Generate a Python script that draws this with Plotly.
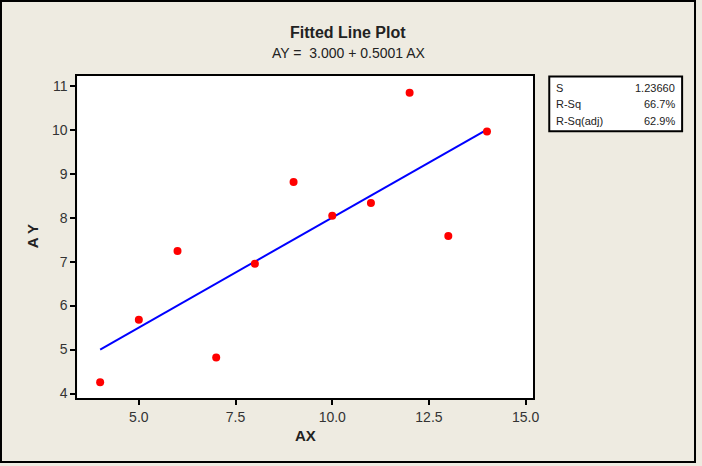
import numpy as np
import plotly.graph_objects as go

# Data (Anscombe set 1)
ax_vals = [10, 8, 13, 9, 11, 14, 6, 4, 12, 7, 5]
ay_vals = [8.04, 6.95, 7.58, 8.81, 8.33, 9.96, 7.24, 4.26, 10.84, 4.82, 5.68]
stat_labels = ["S", "R-Sq", "R-Sq(adj)"]
stat_values = ["1.23660", "66.7%", "62.9%"]
x_ticks = [5.0, 7.5, 10.0, 12.5, 15.0]
y_ticks = [4, 5, 6, 7, 8, 9, 10, 11]

W, H = 702, 466
BG = "#EEEBE1"
FONT = "Liberation Sans"

slope, intercept = np.polyfit(ax_vals, ay_vals, 1)
fit_x = np.linspace(min(ax_vals), max(ax_vals), 50)
fit_y = intercept + slope * fit_x

def px(x):
    return x / W

def py(y):
    return 1 - y / H

fig = go.Figure()
fig.add_trace(go.Scatter(x=fit_x, y=fit_y, mode="lines",
                         line=dict(color="#0000FF", width=2), hoverinfo="skip"))
fig.add_trace(go.Scatter(x=ax_vals, y=ay_vals, mode="markers",
                         marker=dict(color="#FF0000", size=8)))

axis_common = dict(showgrid=False, zeroline=False, showline=True, linecolor="black",
                   linewidth=2, mirror=True, ticks="outside", ticklen=5, tickwidth=2,
                   tickcolor="black", tickfont=dict(family=FONT, size=14, color="#333333"))

fig.update_layout(
    autosize=True, showlegend=False,
    paper_bgcolor=BG, plot_bgcolor="white",
    margin=dict(l=0, r=0, t=0, b=0),
    xaxis=dict(domain=[px(78), px(538)], range=[3.41, 15.2], tickvals=x_ticks,
               ticktext=["5.0", "7.5", "10.0", "12.5", "15.0"], **axis_common),
    yaxis=dict(domain=[py(401), py(76)], range=[3.89, 11.23], tickvals=y_ticks,
               **axis_common),
)

annotations = [
    dict(text="<b>Fitted Line Plot</b>", x=px(351), y=py(33), font=dict(size=16)),
    dict(text="AY =  %.3f + %.4f AX" % (intercept, slope), x=px(351), y=py(53),
         font=dict(size=14)),
    dict(text="<b>AX</b>", x=px(308), y=py(438), font=dict(size=15)),
    dict(text="<b>A Y</b>", x=px(33), y=py(238), textangle=-90, font=dict(size=15)),
]
for a in annotations:
    a.update(xref="paper", yref="paper", showarrow=False, xanchor="center", yanchor="middle")
    a["font"].update(family=FONT, color="#222222")
    fig.add_annotation(**a)

row_y = [89, 105, 122]
for lab, val, ry in zip(stat_labels, stat_values, row_y):
    fig.add_annotation(text=lab, x=px(559), y=py(ry), xref="paper", yref="paper",
                       showarrow=False, xanchor="left", yanchor="middle",
                       font=dict(family=FONT, size=11, color="#222222"))
    fig.add_annotation(text=val, x=px(683), y=py(ry), xref="paper", yref="paper",
                       showarrow=False, xanchor="right", yanchor="middle",
                       font=dict(family=FONT, size=11, color="#222222"))

fig.add_shape(type="rect", xref="paper", yref="paper", x0=px(554), x1=px(688),
              y0=py(132), y1=py(77), line=dict(color="black", width=2), fillcolor="white",
              layer="below")
fig.add_shape(type="rect", xref="paper", yref="paper", x0=px(1), x1=px(701),
              y0=py(465), y1=py(1), line=dict(color="black", width=2))

js = ("var s=document.createElement('style');"
      "s.textContent='html,body{margin:0;padding:0;overflow:hidden;background:#EEEBE1}';"
      "document.head.appendChild(s);")
fig.write_html("out.html", config={"displayModeBar": False, "responsive": True},
               default_width="100vw", default_height="100vh", post_script=js)
